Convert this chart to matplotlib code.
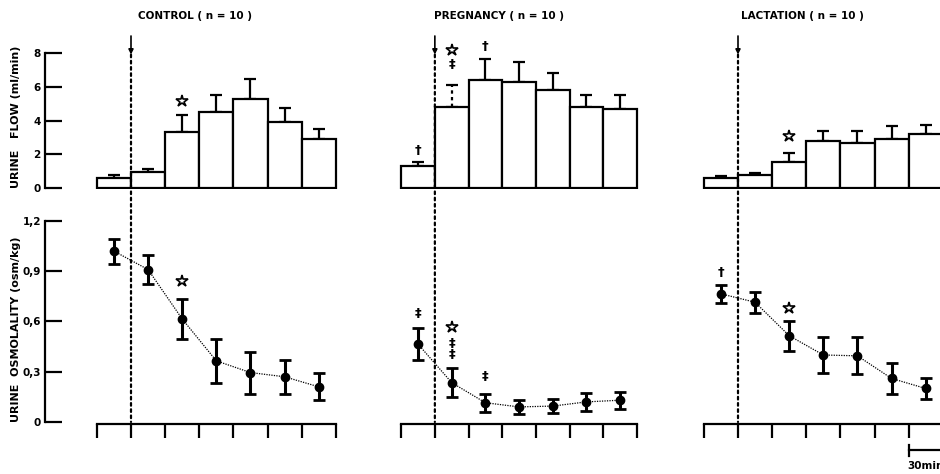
import numpy as np
import matplotlib.pyplot as plt
from matplotlib.patches import ConnectionPatch

# 7 consecutive 30-min periods, infusion starts after period 1
periods = np.arange(7) + 0.5

titles = ['CONTROL ( n = 10 )', 'PREGNANCY ( n = 10 )', 'LACTATION ( n = 10 )']

# urine flow (ml/min), mean and SEM
flow_control = [0.6, 0.95, 3.3, 4.5, 5.3, 3.9, 2.9]
flow_control_err = [0.15, 0.2, 1.0, 1.0, 1.15, 0.85, 0.6]
flow_preg = [1.3, 4.8, 6.4, 6.3, 5.8, 4.8, 4.7]
flow_preg_err = [0.25, 1.3, 1.25, 1.15, 1.0, 0.7, 0.8]
flow_lact = [0.6, 0.8, 1.55, 2.8, 2.65, 2.9, 3.2]
flow_lact_err = [0.1, 0.12, 0.55, 0.6, 0.75, 0.75, 0.55]

# urine osmolality (osm/kg), mean and SEM
osm_control = [1.02, 0.91, 0.615, 0.365, 0.295, 0.27, 0.21]
osm_control_err = [0.075, 0.085, 0.12, 0.13, 0.125, 0.1, 0.08]
osm_preg = [0.465, 0.235, 0.115, 0.09, 0.095, 0.12, 0.13]
osm_preg_err = [0.095, 0.085, 0.055, 0.04, 0.04, 0.055, 0.05]
osm_lact = [0.765, 0.715, 0.515, 0.4, 0.395, 0.26, 0.2]
osm_lact_err = [0.055, 0.062, 0.09, 0.11, 0.11, 0.09, 0.06]

flows = [flow_control, flow_preg, flow_lact]
flow_errs = [flow_control_err, flow_preg_err, flow_lact_err]
osms = [osm_control, osm_preg, osm_lact]
osm_errs = [osm_control_err, osm_preg_err, osm_lact_err]

# significance marks: (period index, y, text)
flow_marks = [[(2, 5.15, '☆')],
              [(0, 2.25, '†'), (1, 7.3, '‡'), (1, 8.15, '☆'), (2, 8.35, '†')],
              [(2, 3.1, '☆')]]
osm_marks = [[(2, 0.84, '☆')],
             [(0, 0.65, '‡'), (1, 0.57, '☆'), (1, 0.47, '‡'), (1, 0.4, '‡'), (2, 0.27, '‡')],
             [(0, 0.89, '†'), (2, 0.68, '☆')]]

plt.rcParams['font.family'] = 'DejaVu Sans'
plt.rcParams['font.weight'] = 'bold'

fig = plt.figure(figsize=(9.4, 4.74), dpi=100)

lefts = [45 / 940, 350 / 940, 652 / 940]
widths = [301 / 940, 297 / 940, 301 / 940]
xlim = (-1.52, 7.3)
lw = 1.6


def put_marks(ax, marks):
    for k, y, s in marks:
        if s == '☆':
            ax.plot(periods[k], y, marker='*', markersize=9, markerfacecolor='white',
                    markeredgecolor='black', markeredgewidth=1.2, linestyle='none')
        else:
            ax.text(periods[k], y, s, ha='center', va='center', fontsize=9.5,
                    fontweight='bold')


for i in range(3):
    ax1 = fig.add_axes([lefts[i], 285 / 474, widths[i], 153 / 474])
    ax2 = fig.add_axes([lefts[i], 50 / 474, widths[i], 211.4 / 474])
    for ax in (ax1, ax2):
        ax.set_xlim(*xlim)
        ax.patch.set_alpha(0)
        for s in ('top', 'right'):
            ax.spines[s].set_visible(False)

    # urine flow bars
    ax1.set_ylim(-0.05, 9.0)
    ax1.bar(periods, flows[i], width=1.0, color='white', edgecolor='black',
            linewidth=lw, zorder=2)
    eb = ax1.errorbar(periods, flows[i], yerr=[np.zeros(7), flow_errs[i]],
                      fmt='none', ecolor='black', elinewidth=lw, capsize=4,
                      capthick=lw, zorder=1)
    if i == 1:
        eb[2][0].set_linestyles(['solid', (0, (1.5, 1.5))] + ['solid'] * 5)
    ax1.spines['bottom'].set_visible(False)
    ax1.set_xticks([])

    # osmolality points
    ax2.set_ylim(-0.012, 1.25)
    ax2.plot(periods, osms[i], color='black', linestyle=(0, (1, 1)), linewidth=0.9)
    ax2.errorbar(periods, osms[i], yerr=osm_errs[i], fmt='o', color='black',
                 markersize=6, elinewidth=2.2, capsize=4.5, capthick=2)
    ax2.spines['bottom'].set_bounds(0, 7)
    ax2.spines['bottom'].set_linewidth(lw)
    ax2.set_xticks(np.arange(8))
    ax2.set_xticklabels([])
    ax2.tick_params(axis='x', direction='out', length=10, width=lw)

    if i == 0:
        for ax, ticks, labels, top in (
                (ax1, [0, 2, 4, 6, 8], ['0', '2', '4', '6', '8'], 8),
                (ax2, [0, 0.3, 0.6, 0.9, 1.2], ['0', '0,3', '0,6', '0,9', '1,2'], 1.2)):
            ax.spines['left'].set_bounds(0, top)
            ax.spines['left'].set_linewidth(lw)
            ax.set_yticks(ticks)
            ax.set_yticklabels(labels, fontsize=7.5, fontweight='bold')
            ax.tick_params(axis='y', direction='in', length=12, width=lw, pad=3)
        ax1.set_ylabel('URINE   FLOW (ml/min)', fontsize=8, fontweight='bold')
        ax2.set_ylabel('URINE  OSMOLALITY (osm/kg)', fontsize=8, fontweight='bold')
        ax1.yaxis.set_label_coords(-0.08, 0.47)
        ax2.yaxis.set_label_coords(-0.08, 0.45)
    else:
        ax1.spines['left'].set_visible(False)
        ax2.spines['left'].set_visible(False)
        ax1.set_yticks([])
        ax2.set_yticks([])

    ax1.set_title(titles[i], fontsize=7.5, fontweight='bold', pad=12)

    put_marks(ax1, flow_marks[i])
    put_marks(ax2, osm_marks[i])

    # infusion start: arrow + dotted line through both panels
    ax1.annotate('', xy=(1, 7.9), xytext=(1, 9.0),
                 arrowprops=dict(arrowstyle='-|>', color='black', lw=1.2,
                                 mutation_scale=7, shrinkA=0, shrinkB=0))
    con = ConnectionPatch(xyA=(1, 7.9), coordsA=ax1.transData,
                          xyB=(1, 0), coordsB=ax2.transData,
                          linestyle=(0, (1.2, 1.6)), linewidth=1.6, color='black')
    fig.add_artist(con)

    if i == 2:
        # 30 min scale bar
        ax2.plot([6, 7.1], [-0.17, -0.17], color='black', linewidth=lw, clip_on=False)
        ax2.plot([6, 6], [-0.135, -0.205], color='black', linewidth=lw, clip_on=False)
        ax2.text(5.95, -0.265, '30min', ha='left', va='center', fontsize=7.5,
                 fontweight='bold', clip_on=False)

fig.savefig('out.png', dpi=100)
